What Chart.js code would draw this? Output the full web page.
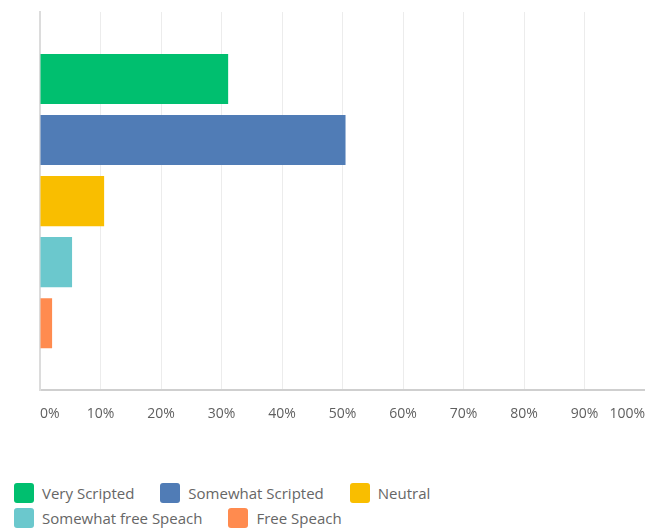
<!DOCTYPE html>
<html>
<head>
<meta charset="utf-8">
<script src="https://cdn.jsdelivr.net/npm/chart.js@4/dist/chart.umd.min.js"></script>
<style>
    body { margin: 0; background: #fff; font-family: "Open Sans", sans-serif; }
    #wrap { position: absolute; left: 0; top: 0; width: 645px; height: 437px; }
    #legend { position: absolute; left: 14px; top: 483px; width: 570px; display: flex; flex-wrap: wrap; column-gap: 26px; row-gap: 5px; }
    .item { display: flex; align-items: center; height: 20px; font-size: 15px; color: #666; }
    .box { width: 20px; height: 20px; border-radius: 3px; margin-right: 8px; }
</style>
</head>
<body>
<div id="wrap"><canvas id="chart"></canvas></div>
<div id="legend"></div>
<script>
    // answer options and share of responses (%)
    const categories = [""];
    const seriesLabels = ["Very Scripted", "Somewhat Scripted", "Neutral", "Somewhat free Speach", "Free Speach"];
    const seriesValues = [31.1, 50.5, 10.6, 5.3, 2.0];
    const seriesColors = ["#00bf6f", "#507cb6", "#f9be00", "#6bc8cd", "#ff8b4f"];

    const datasets = seriesLabels.map((label, i) => ({
        label: label,
        data: [seriesValues[i]],
        backgroundColor: seriesColors[i],
        barPercentage: 0.82,
        categoryPercentage: 0.807
    }));

    new Chart(document.getElementById("chart"), {
        type: "bar",
        data: { labels: categories, datasets: datasets },
        options: {
            indexAxis: "y",
            responsive: true,
            maintainAspectRatio: false,
            animation: false,
            layout: { padding: { left: 40, top: 12, right: 0, bottom: 0 } },
            plugins: { legend: { display: false }, tooltip: { enabled: false } },
            scales: {
                x: {
                    min: 0,
                    max: 100,
                    ticks: {
                        stepSize: 10,
                        align: "inner",
                        padding: 15,
                        color: "#5f5f5f",
                        font: { family: "'Open Sans', sans-serif", size: 14 },
                        callback: v => v + "%"
                    },
                    grid: {
                        color: c => (c.tick && c.tick.value === 100) ? "rgba(0,0,0,0)" : "#ececec",
                        drawTicks: false
                    },
                    border: { color: "#cfcfcf", width: 2 },
                    // the axis runs to the very edge, labels are kept inside
                    afterFit: scale => { scale.paddingRight = 0; scale.paddingLeft = 0; }
                },
                y: {
                    ticks: { display: false },
                    grid: { display: false, drawTicks: false },
                    border: { color: "#dcdcdc", width: 2 }
                }
            }
        }
    });

    // legend below the chart, wrapped like the survey export
    const legend = document.getElementById("legend");
    seriesLabels.forEach((label, i) => {
        const item = document.createElement("div");
        item.className = "item";
        item.innerHTML = `<span class="box" style="background:${seriesColors[i]}"></span>${label}`;
        legend.appendChild(item);
    });
</script>
</body>
</html>
